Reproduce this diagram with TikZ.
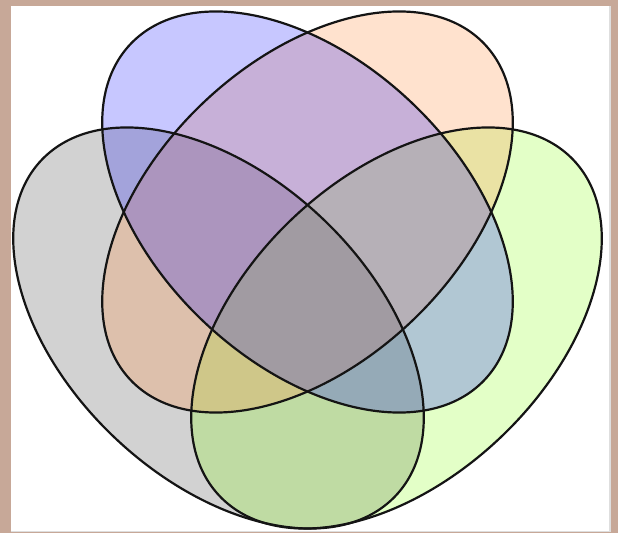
\documentclass[tikz,border=0pt]{standalone}
\begin{document}
\begin{tikzpicture}[x=1pt,y=1pt]
\definecolor{bgbrown}{RGB}{199,168,152}
\definecolor{panelline}{RGB}{222,222,222}
\definecolor{setgray}{RGB}{128,128,128}
\definecolor{setgreen}{RGB}{128,255,0}
\definecolor{setorange}{RGB}{255,140,60}
\definecolor{setblue}{RGB}{0,0,255}
\definecolor{edge}{RGB}{20,20,20}
\tikzset{
  setedge/.style={draw=edge,line width=2.2pt}
}
\useasboundingbox (0,0) rectangle (618,533);
\fill[bgbrown] (0,0) rectangle (618,533);
\fill[panelline] (11,1) rectangle (611,527);
\fill[white] (11,2.5) rectangle (609,527);
\coordinate (cb) at (307.5,321);
\coordinate (co) at (307.5,321);
\coordinate (cg) at (218.5,205);
\coordinate (cn) at (396.5,205);
\path[fill=setgray,fill opacity=0.35,rotate around={-43.5:(cg)}] (cg) ellipse (244 and 151);
\path[fill=setgreen,fill opacity=0.22,rotate around={43.5:(cn)}] (cn) ellipse (244 and 151);
\path[fill=setorange,fill opacity=0.25,rotate around={43.5:(co)}] (co) ellipse (244 and 151);
\path[fill=setblue,fill opacity=0.22,rotate around={-43.5:(cb)}] (cb) ellipse (244 and 151);
\draw[setedge,rotate around={-43.5:(cg)}] (cg) ellipse (244 and 151);
\draw[setedge,rotate around={43.5:(cn)}] (cn) ellipse (244 and 151);
\draw[setedge,rotate around={43.5:(co)}] (co) ellipse (244 and 151);
\draw[setedge,rotate around={-43.5:(cb)}] (cb) ellipse (244 and 151);
\end{tikzpicture}
\end{document}
